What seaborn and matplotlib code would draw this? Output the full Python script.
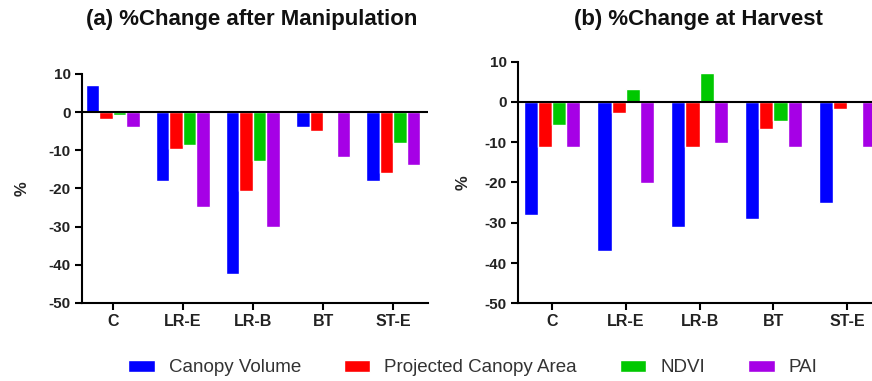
import matplotlib
matplotlib.use("Agg")
import matplotlib.pyplot as plt
import seaborn as sns
import pandas as pd

categories = ["C", "LR-E", "LR-B", "BT", "ST-E"]
metrics = ["Canopy Volume", "Projected Canopy Area", "NDVI", "PAI"]
colors = ["#0000FF", "#FF0000", "#00C800", "#A600E6"]

# (a) %Change after Manipulation
a_canopy_volume = [7.1, -18.0, -42.5, -3.8, -18.0]
a_projected_area = [-1.8, -9.6, -20.7, -4.9, -16.0]
a_ndvi = [-0.7, -8.5, -12.7, 0.0, -8.1]
a_pai = [-3.9, -24.8, -30.1, -11.7, -13.9]

# (b) %Change at Harvest
b_canopy_volume = [-28.0, -37.0, -31.1, -29.1, -25.1]
b_projected_area = [-11.1, -2.7, -11.1, -6.7, -1.8]
b_ndvi = [-5.6, 3.2, 7.2, -4.7, 0.0]
b_pai = [-11.1, -20.2, -10.2, -11.1, -11.1]

yticks = [-50, -40, -30, -20, -10, 0, 10]


def to_long(series):
    rows = []
    for m, vals in zip(metrics, series):
        for c, v in zip(categories, vals):
            rows.append({"Treatment": c, "Metric": m, "Change": v})
    return pd.DataFrame(rows)


df_a = to_long([a_canopy_volume, a_projected_area, a_ndvi, a_pai])
df_b = to_long([b_canopy_volume, b_projected_area, b_ndvi, b_pai])

sns.set_theme(style="white")
plt.rcParams["font.family"] = ["Liberation Sans", "DejaVu Sans"]

fig = plt.figure(figsize=(8.72, 3.81), dpi=100)
ax_a = fig.add_axes([0.094, 0.205, 0.397, 0.601])
ax_b = fig.add_axes([0.594, 0.204, 0.42, 0.634])

for ax, df, title, xl, tx, lp in [
    (ax_a, df_a, "(a) %Change after Manipulation", (-0.44, 4.5), 252, 14),
    (ax_b, df_b, "(b) %Change at Harvest", (-0.46, 4.5), 698, 10),
]:
    sns.barplot(data=df, x="Treatment", y="Change", hue="Metric",
                hue_order=metrics, order=categories, palette=colors,
                saturation=1, width=0.77, errorbar=None, ax=ax,
                legend=(ax is ax_a))
    ax.axhline(0, color="black", lw=1.5, zorder=5)
    ax.set_ylim(-50, 10)
    ax.set_xlim(*xl)
    ax.set_yticks(yticks)
    ax.set_yticklabels([str(t) for t in yticks], fontsize=11, fontweight="bold", color="#222222")
    ax.set_xticks(range(len(categories)))
    ax.set_xticklabels(categories, fontsize=11.5, fontweight="bold", color="#222222")
    ax.set_xlabel("")
    ax.set_ylabel("%", fontsize=12, fontweight="bold", labelpad=lp)
    for s in ["top", "right"]:
        ax.spines[s].set_visible(False)
    for s in ["left", "bottom"]:
        ax.spines[s].set_linewidth(1.5)
        ax.spines[s].set_color("black")
    ax.tick_params(axis="both", direction="out", length=5, width=1.5, color="black",
                   bottom=True, left=True, pad=3)
    fig.text(tx / 872, 1 - 20 / 381, title, ha="center", va="center",
             fontsize=16, fontweight="bold", color="#111111")

handles, labels = ax_a.get_legend_handles_labels()
ax_a.get_legend().remove()
fig.legend(handles, labels, loc="center", bbox_to_anchor=(473 / 872, 13 / 381),
           ncol=4, frameon=False, fontsize=13.5, handlelength=1.4, handleheight=0.55,
           handletextpad=0.75, columnspacing=2.3, labelcolor="#333333")

fig.savefig("out.png", dpi=100)
